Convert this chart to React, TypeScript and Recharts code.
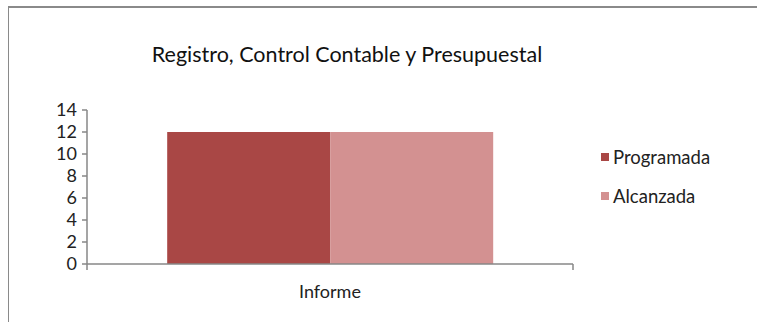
import React from "react";
import {
  BarChart,
  Bar,
  XAxis,
  YAxis,
} from "recharts";

const categories = ["Informe"];
const programada = [12];
const alcanzada = [12];
const yTicks = [0, 2, 4, 6, 8, 10, 12, 14];

const seriesNames = ["Programada", "Alcanzada"];
const COLORS = ["#A94745", "#D39191"];

const data = categories.map((name, i) => ({
  name,
  Programada: programada[i],
  Alcanzada: alcanzada[i],
}));

const FONT = "Lato, 'Noto Sans', sans-serif";
const AXIS = "#878787";

// category label plus tick marks at both edges of the band (Excel style)
function CategoryTick(props: any) {
  const { x, y, payload } = props;
  const half = payload.offset || 0;
  const top = y - 21;
  return (
    <g>
      <line x1={x - half} y1={top} x2={x - half} y2={top + 6} stroke={AXIS} strokeWidth={1.5} />
      <line x1={x + half} y1={top} x2={x + half} y2={top + 6} stroke={AXIS} strokeWidth={1.5} />
      <text
        x={x}
        y={y}
        dy="0.71em"
        textAnchor="middle"
        fill="#222"
        fontFamily={FONT}
        fontSize={18}
      >
        {payload.value}
      </text>
    </g>
  );
}

function LegendBox() {
  return (
    <div
      style={{
        position: "absolute",
        left: 601,
        top: 137,
        fontFamily: FONT,
        fontSize: 18.5,
        color: "#222",
      }}
    >
      {seriesNames.map((name, i) => (
        <div
          key={name}
          style={{ display: "flex", alignItems: "center", height: 39 }}
        >
          <span
            style={{
              width: 8,
              height: 8,
              background: COLORS[i],
              marginRight: 4,
              display: "inline-block",
            }}
          />
          {name}
        </div>
      ))}
    </div>
  );
}

export default function App() {
  return (
    <div
      style={{
        position: "absolute",
        left: 0,
        top: 0,
        width: 757,
        height: 322,
        background: "#fff",
        overflow: "hidden",
      }}
    >
      <div
        style={{
          position: "absolute",
          left: 8,
          top: 6,
          width: 760,
          height: 330,
          borderLeft: "1.5px solid #8a8a8a",
          borderTop: "2px solid #8a8a8a",
        }}
      />
      <div
        style={{
          position: "absolute",
          left: 0,
          top: 41,
          width: 694,
          textAlign: "center",
          fontFamily: FONT,
          fontSize: 21.5,
          color: "#111",
        }}
      >
        Registro, Control Contable y Presupuestal
      </div>
      <BarChart
        width={757}
        height={322}
        data={data}
        margin={{ top: 110, right: 184, bottom: 28, left: 0 }}
        barCategoryGap="16.5%"
        barGap={0}
        style={{ position: "absolute", left: 0, top: 0 }}
      >
        <XAxis
          dataKey="name"
          height={30}
          stroke={AXIS}
          strokeWidth={1.5}
          tickLine={false}
          tick={<CategoryTick />}
          tickMargin={15}
        />
        <YAxis
          width={87}
          domain={[0, 14]}
          ticks={yTicks}
          interval={0}
          stroke={AXIS}
          strokeWidth={1.5}
          tickSize={5}
          tickMargin={5}
          tick={{ fill: "#222", fontFamily: FONT, fontSize: 18 }}
        />
        {seriesNames.map((name, i) => (
          <Bar
            key={name}
            dataKey={name}
            fill={COLORS[i]}
            isAnimationActive={false}
          />
        ))}
      </BarChart>
      <LegendBox />
    </div>
  );
}
